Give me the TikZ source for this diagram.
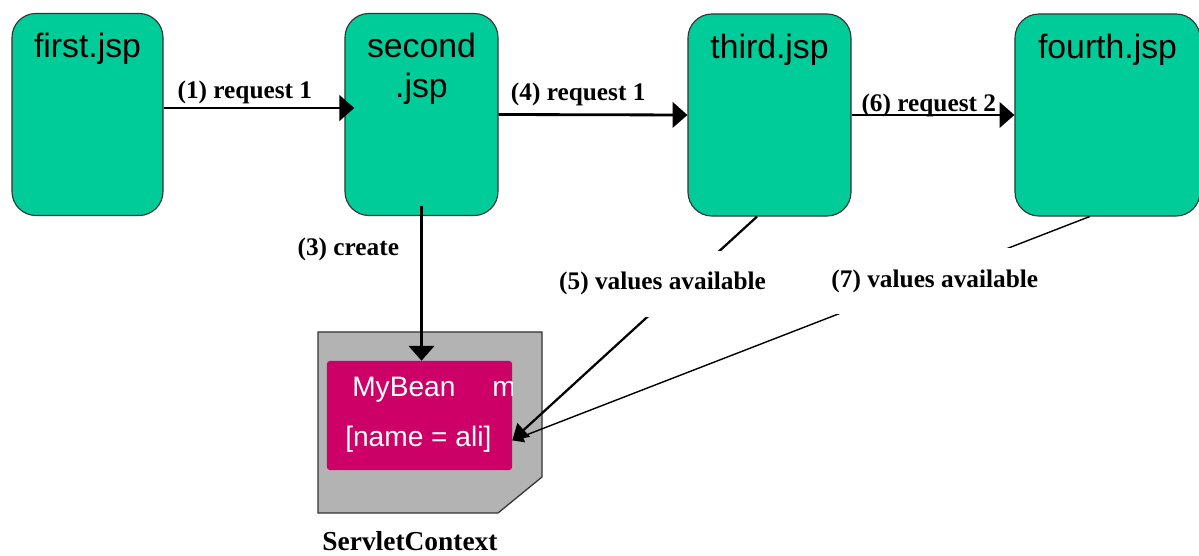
\documentclass[tikz,border=0pt]{standalone}
\usepackage{fontspec}
\setmainfont{Liberation Serif}
\newfontfamily\arialfont{Liberation Sans}
\usetikzlibrary{arrows.meta,positioning}
\definecolor{jspgreen}{HTML}{00CC99}
\definecolor{beanpink}{HTML}{CC0066}
\definecolor{ctxgray}{HTML}{B3B3B3}
\definecolor{edge}{HTML}{333333}

\begin{document}
\begin{tikzpicture}[x=0.025cm,y=-0.025cm,
    jsp/.style={draw=edge,line width=0.8pt,fill=jspgreen,rounded corners=0.6cm,minimum height=5.05cm,inner sep=0pt},
    jsptext/.style={font=\arialfont\fontsize{24}{28}\selectfont,align=center,anchor=north,yshift=-11pt},
    flow/.style={line width=2pt,-{Triangle[length=10.5pt,width=18pt]}},
    reqlbl/.style={font=\bfseries\fontsize{18}{20}\selectfont,inner sep=2pt},
    vallbl/.style={reqlbl,fill=white,minimum height=1.65cm},
    beantext/.style={font=\arialfont\fontsize{20}{24}\selectfont,text=white,inner sep=0pt,anchor=base west}]
  \path[use as bounding box] (0,0) rectangle (1199,556);
  \clip (0,0) rectangle (1199,556);

  % pages
  \node[jsp,minimum width=3.775cm,label={[jsptext]north:first.jsp}] (first) at (87.5,114.5) {};
  \node[jsp,minimum width=3.825cm,label={[jsptext]north:second\\.jsp}] (second) at (421.5,114.5) {};
  \node[jsp,minimum width=4.075cm,label={[jsptext]north:third.jsp}] (third) at (769.5,115) {};
  \node[jsp,minimum width=4.625cm,label={[jsptext]north:fourth.jsp}] (fourth) at (1107.5,115) {};

  % servlet context with the bean
  \draw[edge,fill=ctxgray,line width=0.9pt] (318,332) -- (542,332) -- (542,477) -- (498,513) -- (318,513) -- cycle;
  \node[fill=beanpink,rounded corners=2pt,minimum width=4.625cm,minimum height=2.725cm,inner sep=0pt] (bean) at (419.5,415.5) {};
  \node[beantext] (beanname) at (352,397) {MyBean};
  \node[beantext] (beanval) at (345,447) {[name = ali]};
  \begin{scope}
    \clip (bean.south west) rectangle (bean.north east);
    \node[beantext] (beanm) at (492,397) {m};
  \end{scope}
  \node[font=\bfseries\fontsize{19.5}{22}\selectfont,inner sep=0pt] (ctxname) at (410,541) {ServletContext};

  % requests
  \draw[flow,shorten >=-7pt] ([yshift=4.6pt]first.east) -- node[reqlbl,above,xshift=-6.5pt] (lbl1) {(1) request 1} ([yshift=4.6pt]second.west);
  \draw[flow] (second.east) -- node[reqlbl,above,xshift=-10.5pt,yshift=3pt] (lbl4) {(4) request 1} (third.west);
  \draw[flow] (third.east) -- node[reqlbl,above,xshift=-3pt,yshift=-4pt] (lbl6) {(6) request 2} (fourth.west);
  \draw[flow] ([yshift=7pt]second.south) -- node[reqlbl,left=13pt,pos=0.28] (lbl3) {(3) create} (second.south |- bean.north);

  % values
  \draw[line width=1.6pt,-{Triangle[length=11pt,width=13pt]}] (third.263) -- node[vallbl,pos=0.3,xshift=-15pt] (lbl5) {(5) values available} (bean.-15);
  \draw[line width=1pt,-{Triangle[length=8pt,width=9pt]}] (fourth.260) -- node[vallbl,pos=0.29,xshift=9pt] (lbl7) {(7) values available} (bean.-15);
\end{tikzpicture}
\end{document}
